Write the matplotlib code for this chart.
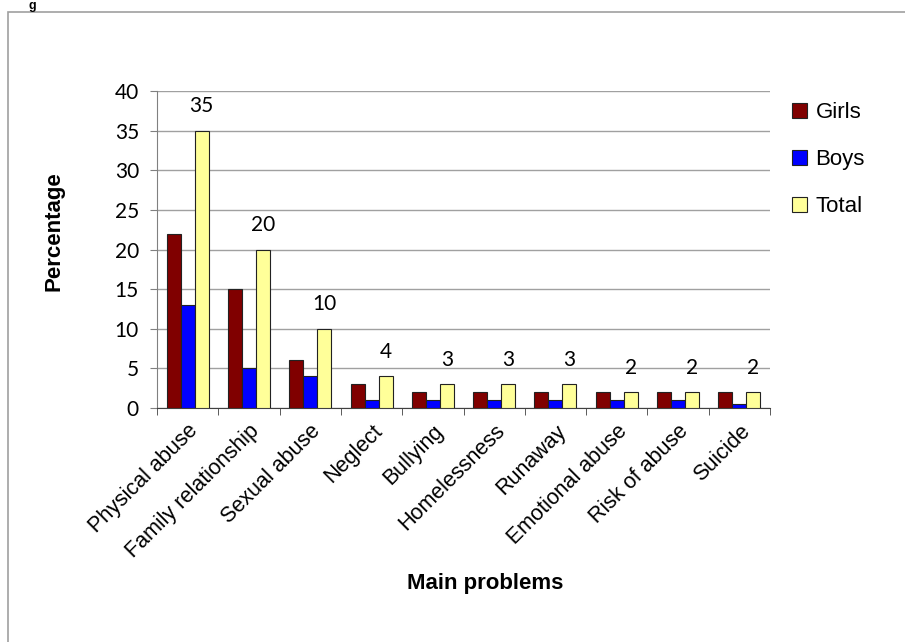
import matplotlib
matplotlib.use("Agg")
import matplotlib.pyplot as plt
from matplotlib.patches import Rectangle
import numpy as np

# data
problems = ["Physical abuse", "Family relationship", "Sexual abuse", "Neglect",
            "Bullying", "Homelessness", "Runaway", "Emotional abuse",
            "Risk of abuse", "Suicide"]
girls = [22, 15, 6, 3, 2, 2, 2, 2, 2, 2]
boys = [13, 5, 4, 1, 1, 1, 1, 1, 1, 0.5]
total = [35, 20, 10, 4, 3, 3, 3, 2, 2, 2]

fig = plt.figure(figsize=(9.05, 6.42), dpi=100)

# outer frame (chart border from the document)
fig.patches.append(Rectangle((8/905, -0.1), 1.0, 1 - 12/642 + 0.1, transform=fig.transFigure,
                             fill=False, edgecolor="#a0a0a0", lw=1.2))
fig.text(28/905, 1.0, "g", fontsize=9, fontweight="bold", va="top", ha="left",
         family="Liberation Sans")

ax = fig.add_axes([157/905, 1 - 408/642, 613/905, 317/642])

x = np.arange(len(problems))
w = 0.228
ax.bar(x - w, girls, w, color="#800000", edgecolor="#222222", lw=0.8, label="Girls", zorder=3)
ax.bar(x, boys, w, color="#0000ff", edgecolor="#222222", lw=0.8, label="Boys", zorder=3)
ax.bar(x + w, total, w, color="#ffff99", edgecolor="#222222", lw=0.8, label="Total", zorder=3)

for xi, v in zip(x, total):
    ax.annotate(str(v), (xi + w, v), xytext=(0, 17.5), textcoords="offset points",
                ha="center", va="center", fontsize=15, family="Lato")

ax.set_xlim(-0.5, len(problems) - 0.5)
ax.set_ylim(0, 40)
ax.set_yticks(range(0, 41, 5))
ax.yaxis.grid(True, color="#a0a0a0", lw=1, zorder=0)
ax.set_axisbelow(True)

ax.set_xticks(x)
ax.set_xticklabels(problems, rotation=45, ha="right", rotation_mode="anchor",
                   fontsize=15.5, family="Liberation Sans")
ax.set_xticks(np.arange(-0.5, len(problems)), minor=True)
ax.tick_params(axis="x", which="major", length=0, pad=9)
ax.tick_params(axis="x", which="minor", length=5, color="#404040")
ax.tick_params(axis="y", length=5, color="#808080", labelsize=15, pad=8)
for lab in ax.get_yticklabels():
    lab.set_family("Lato")

for s in ["top", "right"]:
    ax.spines[s].set_visible(False)
ax.spines["left"].set_color("#808080")
ax.spines["bottom"].set_color("#404040")

fig.text(54/905, 1 - 231/642, "Percentage", fontsize=16, fontweight="bold",
         family="Liberation Sans", rotation=90, ha="center", va="center")
fig.text(485/905, 1 - 583/642, "Main problems", fontsize=16, fontweight="bold",
         family="Liberation Sans", ha="center", va="center")

fig.legend(loc="upper left", bbox_to_anchor=(781/905, 1 - 91/642), frameon=False,
           prop={"family": "Liberation Sans", "size": 16}, handlelength=0.65,
           handleheight=0.65, handletextpad=0.4, labelspacing=1.17, borderpad=0)

fig.savefig("out.png", dpi=100)
